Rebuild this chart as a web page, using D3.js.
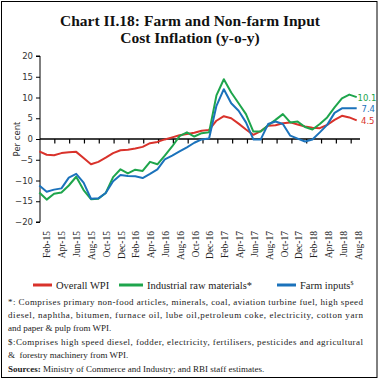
<!DOCTYPE html>
<html><head><meta charset="utf-8">
<script src="https://cdn.jsdelivr.net/npm/d3@7"></script>
<style>body{margin:0;background:#fff}svg{display:block}</style>
</head><body>
<svg id="c" width="380" height="381"></svg>
<script>
const months = ["Jan-15","Feb-15","Mar-15","Apr-15","May-15","Jun-15","Jul-15","Aug-15","Sep-15","Oct-15","Nov-15","Dec-15",
"Jan-16","Feb-16","Mar-16","Apr-16","May-16","Jun-16","Jul-16","Aug-16","Sep-16","Oct-16","Nov-16","Dec-16",
"Jan-17","Feb-17","Mar-17","Apr-17","May-17","Jun-17","Jul-17","Aug-17","Sep-17","Oct-17","Nov-17","Dec-17",
"Jan-18","Feb-18","Mar-18","Apr-18","May-18","Jun-18","Jul-18","Aug-18"];
const xLabels = ["Feb-15","Apr-15","Jun-15","Aug-15","Oct-15","Dec-15","Feb-16","Apr-16","Jun-16","Aug-16","Oct-16",
"Dec-16","Feb-17","Apr-17","Jun-17","Aug-17","Oct-17","Dec-17","Feb-18","Apr-18","Jun-18","Aug-18"];
const overallWPI = [-3.0,-3.8,-3.9,-3.4,-3.2,-3.1,-4.6,-6.1,-5.5,-4.5,-3.4,-2.7,
-2.6,-2.3,-1.9,-1.0,-0.7,-0.1,0.4,0.9,1.2,1.5,2.0,2.2,
4.4,5.5,5.0,3.7,2.3,1.0,1.9,3.2,3.3,3.8,4.0,3.5,
3.0,2.7,2.6,3.4,4.6,5.6,5.2,4.5];
const industrialRaw = [-12.9,-14.6,-13.2,-12.9,-11.2,-9.1,-12.3,-14.5,-14.4,-13.0,-9.2,-7.3,
-8.3,-7.4,-7.7,-5.5,-6.1,-4.0,-1.8,0.7,1.6,0.6,1.4,1.6,
10.5,14.4,11.2,8.6,6.0,1.8,1.8,3.3,4.6,6.0,4.0,4.2,
2.9,2.3,3.6,5.2,7.6,9.8,10.7,10.1];
const farmInputs = [-11.2,-12.7,-12.2,-11.9,-9.3,-8.4,-10.5,-14.4,-14.3,-13.0,-10.2,-8.7,
-8.9,-9.0,-9.4,-8.4,-7.3,-4.9,-4.0,-3.0,-2.0,-0.9,-0.1,0.1,
8.0,12.0,8.6,6.8,4.0,-0.1,-0.1,3.6,4.2,3.6,0.8,0.1,
-0.6,-0.1,1.6,3.4,6.3,7.4,7.4,7.4];
const yTicks = [20,15,10,5,0,-5,-10,-15,-20];
const seriesNames = ["Overall WPI","Industrial raw materials*","Farm inputs"];
const endLabels = ["4.5","10.1","7.4"];
const colors = ["#d9322b","#1ea54c","#1b72bb"];

const svg = d3.select("#c");
svg.append("rect").attr("x",1.5).attr("y",1.5).attr("width",375.5).attr("height",376)
  .attr("fill","none").attr("stroke","#000").attr("stroke-width",1);

// title
const title = svg.append("text").attr("text-anchor","middle")
  .attr("font-family","Liberation Serif, serif").attr("font-weight","bold").attr("font-size",15.5).attr("fill","#111");
title.append("tspan").attr("x",190).attr("y",26).text("Chart II.18: Farm and Non-farm Input");
title.append("tspan").attr("x",190).attr("y",43).text("Cost Inflation (y-o-y)");

const x = d3.scalePoint().domain(months).range([39.3,356.7]);
const xb = d3.scaleBand().domain(xLabels).range([40,366]);
const y = d3.scaleLinear().domain([-20,20]).range([222,56]);

// y axis
const yAxis = d3.axisLeft(y).tickValues(yTicks).tickSize(4).tickPadding(3).tickFormat(d3.format("d"));
const ga = svg.append("g").attr("transform","translate(40,0)").call(yAxis);
ga.select(".domain").attr("stroke","#000").attr("d","M-4,"+y(20)+"H0V"+y(-20)+"H-4");
ga.selectAll(".tick line").attr("stroke","#000");
ga.selectAll(".tick text").attr("font-family","DejaVu Sans, sans-serif").attr("font-size",8.5).attr("fill","#333");

svg.append("text").attr("transform","translate(20,"+y(0)+") rotate(-90)").attr("text-anchor","middle")
  .attr("font-family","DejaVu Sans, sans-serif").attr("font-size",8.5).attr("fill","#333").text("Per cent");

// zero axis
svg.append("line").attr("x1",40).attr("x2",360).attr("y1",y(0)).attr("y2",y(0)).attr("stroke","#000").attr("stroke-width",1.3);
svg.append("g").selectAll("line").data(xLabels.slice(1)).join("line")
  .attr("x1",d=>xb(d)).attr("x2",d=>xb(d)).attr("y1",y(0)).attr("y2",y(0)+4.5).attr("stroke","#000").attr("stroke-width",1.2);

// x labels at bottom
svg.append("g").selectAll("text").data(xLabels).join("text")
  .attr("transform",d=>"translate("+(xb(d)+xb.bandwidth()/2+3)+",231) rotate(-90)")
  .attr("text-anchor","end").attr("font-family","Liberation Serif, serif").attr("font-size",9.5).attr("fill","#222")
  .text(d=>d);

// lines
const data = [overallWPI, industrialRaw, farmInputs];
const line = d3.line().x((d,i)=>x(months[i])).y(d=>y(d));
svg.append("g").selectAll("path").data(data).join("path")
  .attr("d",line).attr("fill","none").attr("stroke",(d,i)=>colors[i]).attr("stroke-width",2).attr("stroke-linejoin","round");

// end labels
const endX = [361, 357.5, 361.5];
svg.append("g").selectAll("text").data(data).join("text")
  .attr("x",(d,i)=>endX[i]).attr("y",d=>y(d[d.length-1])+3.5)
  .attr("font-family","DejaVu Sans, sans-serif").attr("font-size",8.5).attr("fill",(d,i)=>colors[i])
  .text((d,i)=>endLabels[i]);

// legend
const legX = [33,119,277];
const lg = svg.append("g").selectAll("g").data(seriesNames).join("g")
  .attr("transform",(d,i)=>"translate("+legX[i]+",285)");
lg.append("line").attr("x1",0).attr("x2",(d,i)=>i===1?24:19).attr("y1",0).attr("y2",0)
  .attr("stroke",(d,i)=>colors[i]).attr("stroke-width",3);
const lt = lg.append("text").attr("x",(d,i)=>i===1?28:23).attr("y",3.5)
  .attr("font-family","Liberation Serif, serif").attr("font-size",10.5).attr("fill","#222").text(d=>d);
lt.filter((d,i)=>i===2).append("tspan").attr("font-size",6).attr("dy",-4).text("$");

// footnotes
const notes = [
 {t:"*: Comprises primary non-food articles, minerals, coal, aviation turbine fuel, high speed", y:305, j:true},
 {t:"diesel, naphtha, bitumen, furnace oil, lube oil,petroleum coke, electricity, cotton yarn", y:318, j:true},
 {t:"and paper & pulp from WPI.", y:330.5, j:false},
 {t:"$:Comprises high speed diesel, fodder, electricity, fertilisers, pesticides and agricultural", y:345, j:true},
 {t:"&  forestry machinery from WPI.", y:357.5, j:false}
];
const fn = svg.append("g").attr("font-family","Liberation Serif, serif").attr("font-size",9).attr("fill","#222");
notes.forEach(n=>{
  const t = fn.append("text").attr("x",8).attr("y",n.y).attr("xml:space","preserve").text(n.t);
  if(n.j) t.attr("textLength",355).attr("lengthAdjust","spacing");
});
const src = fn.append("text").attr("x",8).attr("y",371.5);
src.append("tspan").attr("font-weight","bold").text("Sources:");
src.append("tspan").text(" Ministry of Commerce and Industry; and RBI staff estimates.");
</script>
</body></html>
